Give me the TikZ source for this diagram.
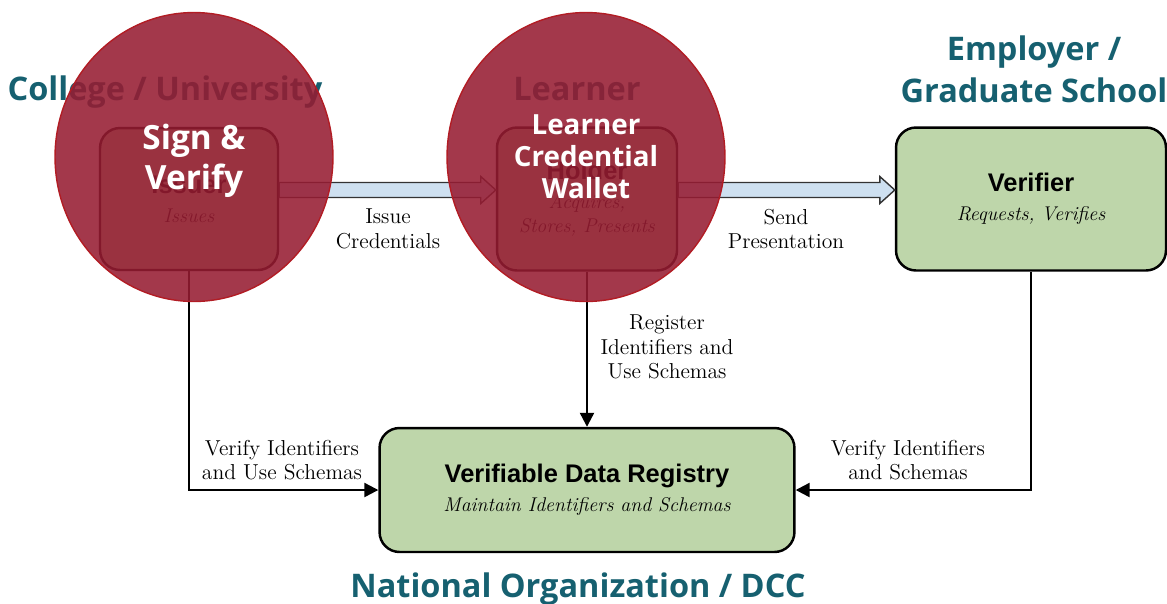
\documentclass[tikz,border=0pt]{standalone}
\usepackage{fontspec}
\usepackage{tikz}
\usetikzlibrary{arrows.meta,shapes,calc}
\newfontfamily\headfont{Open Sans}
\newfontfamily\boxfont{Liberation Sans}
\definecolor{headteal}{RGB}{22,96,112}
\definecolor{boxgreen}{RGB}{190,214,170}
\definecolor{flowblue}{RGB}{206,224,240}
\definecolor{badgered}{RGB}{150,28,50}
\definecolor{badgeline}{RGB}{178,28,36}
\newcommand{\boxtitle}[1]{{\boxfont\bfseries\fontsize{14.5}{16.5}\selectfont #1}}
\tikzstyle{party}=[draw=black, line width=1.4pt, fill=boxgreen, rounded corners=0.4cm, align=center, inner sep=0pt, font=\fontsize{11.3}{16.5}\selectfont]
\tikzstyle{heading}=[text=headteal, font=\headfont\bfseries\fontsize{18.5}{22.8}\selectfont, anchor=base]
\tikzstyle{badge}=[ellipse, draw=badgeline, line width=0.8pt, fill=badgered, fill opacity=0.88, text opacity=1, text=white, align=center, minimum width=5.56cm, minimum height=5.78cm, inner sep=0pt]
\tikzstyle{note}=[align=center, font=\fontsize{12.3}{14}\selectfont]
\tikzstyle{link}=[draw, line width=1.3pt, -{Triangle[length=0.28cm,width=0.28cm]}]
\tikzstyle{flow}=[draw=black!80, line width=0.8pt, fill=flowblue, to path={let \p1=(\tikztostart), \p2=(\tikztotarget) in
    (\x1,{\y1+0.33cm}) -- ({\x2-0.3cm},{\y1+0.33cm}) -- ({\x2-0.3cm},{\y1+0.45cm}) -- (\x2,{\y1+0.18cm})
    -- ({\x2-0.3cm},{\y1-0.09cm}) -- ({\x2-0.3cm},{\y1+0.03cm}) -- (\x1,{\y1+0.03cm}) -- cycle}]

\begin{document}
\begin{tikzpicture}[x=0.02cm, y=-0.02cm]
    \useasboundingbox (0,0) rectangle (1167,603);
    % Draw the four parties
    \node[party, minimum width=3.56cm, minimum height=2.84cm] (issuer) at (189,199)
        {\boxtitle{Issuer}\\\itshape Issues};
    \node[party, minimum width=3.6cm, minimum height=2.86cm] (holder) at (587,199)
        {\boxtitle{Holder}\\\itshape Acquires,\\[-3pt]\itshape Stores, Presents};
    \node[party, minimum width=5.4cm, minimum height=2.86cm] (verifier) at (1031,199)
        {\boxtitle{Verifier}\\\itshape Requests, Verifies};
    \node[party, minimum width=8.3cm, minimum height=2.48cm] (registry) at (587,490)
        {\boxtitle{Verifiable Data Registry}\\\itshape Maintain Identifiers and Schemas};

    % Headings above and below
    \node[heading] (college) at (165,100) {College / University};
    \node[heading] (learner) at (577,100) {Learner};
    \node[heading] (employer) at (1034,60) {Employer /};
    \node[heading] (gradschool) at (1034,102) {Graduate School};
    \node[heading] (national) at (578,597) {National Organization / DCC};

    % Connect parties
    \path[flow] (issuer.east) to (holder.west);
    \path[flow] (holder.east) to (verifier.west);
    \path[link] (issuer.south) |- (registry.west);
    \path[link] (holder.south) -- (registry.north);
    \path[link] (verifier.south) |- (registry.east);

    \foreach \pos/\name/\text in {{(388,229)/issuenote/Issue\\Credentials},
        {(786,229)/sendnote/Send\\Presentation},
        {(667,347)/registernote/Register\\Identifiers and\\Use Schemas},
        {(282,460)/usenote/Verify Identifiers\\and Use Schemas},
        {(908,460)/checknote/Verify Identifiers\\and Schemas}}
        \node[note] (\name) at \pos {\text};

    % Red circles on top
    \node[badge, font=\headfont\bfseries\fontsize{19}{22.8}\selectfont] (sign) at (194,157) {\rule{0pt}{18.6pt}Sign \&\\Verify};
    \node[badge, font=\headfont\bfseries\fontsize{15.8}{18.2}\selectfont] (wallet) at (586,157) {Learner\\Credential\\Wallet};
\end{tikzpicture}
\end{document}
